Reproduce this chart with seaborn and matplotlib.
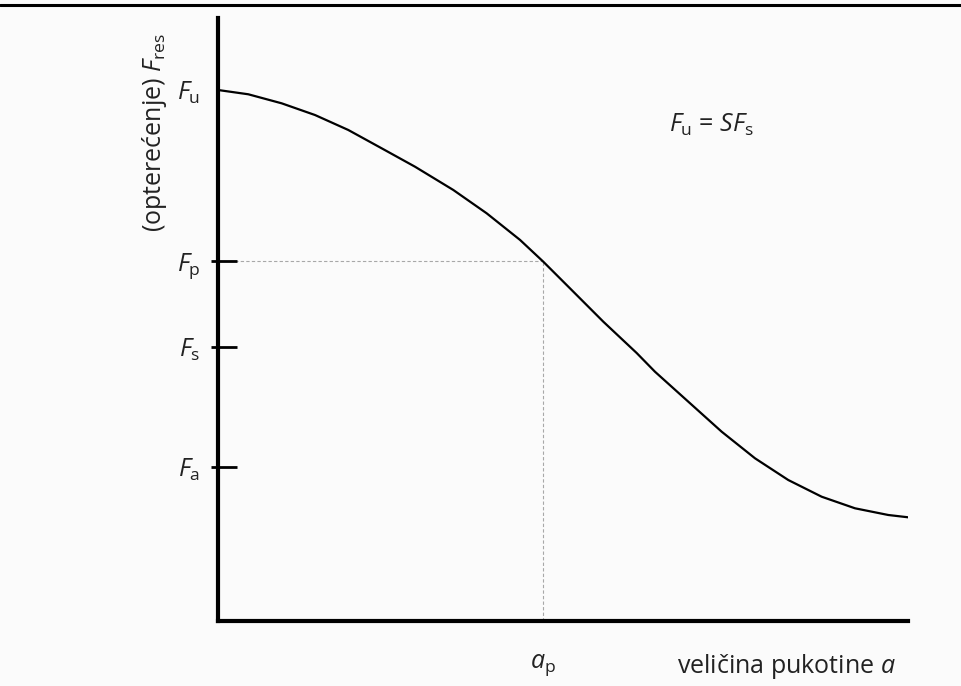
import numpy as np
import pandas as pd
import matplotlib
matplotlib.use("Agg")
import matplotlib.pyplot as plt
from matplotlib.lines import Line2D
import seaborn as sns

# Curve (arbitrary units 0-100)
crack_size = [0.0, 4.39, 9.23, 14.06, 18.88, 23.72, 28.55, 34.10, 38.94, 43.77,
              47.14, 51.01, 55.84, 60.68, 63.33, 68.16, 73.0, 77.83, 82.65,
              87.49, 92.32, 97.14, 100.0]
residual_force = [88.06, 87.35, 85.85, 83.91, 81.43, 78.39, 75.34, 71.48, 67.61,
                  63.20, 59.59, 55.17, 49.64, 44.44, 41.34, 36.37, 31.39, 26.98,
                  23.38, 20.61, 18.69, 17.58, 17.20]

# Characteristic levels
F_u, F_p, F_s, F_a = 88.06, 59.7, 45.4, 25.5
a_p = 47.1
ytick_vals = [F_u, F_p, F_s, F_a]
ytick_labels = [r"$F_\mathrm{u}$", r"$F_\mathrm{p}$", r"$F_\mathrm{s}$", r"$F_\mathrm{a}$"]
xtick_vals = [a_p]
xtick_labels = [r"$a_\mathrm{p}$"]

sns.set_theme(style="white")
plt.rcParams["font.family"] = ["Open Sans", "DejaVu Sans"]
plt.rcParams["mathtext.fontset"] = "custom"
plt.rcParams["mathtext.rm"] = "Open Sans"
plt.rcParams["mathtext.it"] = "Open Sans:italic"
plt.rcParams["mathtext.bf"] = "Open Sans:bold"

bg = "#fbfbfb"
txt = "#222222"
fig = plt.figure(figsize=(9.61, 6.86), dpi=100, facecolor=bg)
ax = fig.add_axes([218 / 961, 65 / 686, 690 / 961, 603 / 686], facecolor=bg)
ax.set_axisbelow(False)

df = pd.DataFrame({"a": crack_size, "F": residual_force})
sns.lineplot(data=df, x="a", y="F", ax=ax, color="black", linewidth=1.6,
             estimator=None, sort=True)

ax.hlines(F_p, 0, a_p, colors="#a8a8a8", linestyles=(0, (3, 2)), linewidth=0.8, zorder=1)
ax.vlines(a_p, 0, F_p, colors="#a8a8a8", linestyles=(0, (3, 2)), linewidth=0.8, zorder=1)

ax.set_xlim(0, 100)
ax.set_ylim(0, 100)

for side in ["top", "right"]:
    ax.spines[side].set_visible(False)
for side in ["left", "bottom"]:
    ax.spines[side].set_color("black")
    ax.spines[side].set_linewidth(3)
    ax.spines[side].set_capstyle("projecting")

fs = 18
ax.set_yticks(ytick_vals)
ax.set_yticklabels(ytick_labels, fontsize=fs, color=txt)
ax.set_yticks(ytick_vals, minor=True)
ax.yaxis.remove_overlapping_locs = False
ax.tick_params(axis="y", which="major", direction="in", length=13.5, width=2,
               color="black", pad=12.5, left=True)
ax.tick_params(axis="y", which="minor", direction="out", length=5, width=2,
               color="black", left=True)
ax.yaxis.get_major_ticks()[0].tick1line.set_visible(False)
ax.yaxis.get_minor_ticks()[0].tick1line.set_visible(False)

ax.set_xticks(xtick_vals)
ax.set_xticklabels(xtick_labels, fontsize=fs, color=txt)
ax.tick_params(axis="x", which="both", length=0, pad=22, bottom=True)

ax.set_ylabel(r"(opterećenje) $F_\mathrm{res}$", fontsize=fs, color=txt)
ax.yaxis.set_label_coords(-0.071, 0.81)
ax.set_xlabel(r"veličina pukotine $a$", fontsize=fs, color=txt)
ax.xaxis.set_label_coords(0.823, -0.052)

ax.text(0.715, 0.8235, r"$F_\mathrm{u}$ = $SF_\mathrm{s}$", transform=ax.transAxes,
        fontsize=fs, color=txt, ha="center", va="center")

fig.add_artist(Line2D([0, 1], [1 - 5 / 686, 1 - 5 / 686], color="black",
                      linewidth=2.2, transform=fig.transFigure))

fig.savefig("out.png", dpi=100, facecolor=bg)
